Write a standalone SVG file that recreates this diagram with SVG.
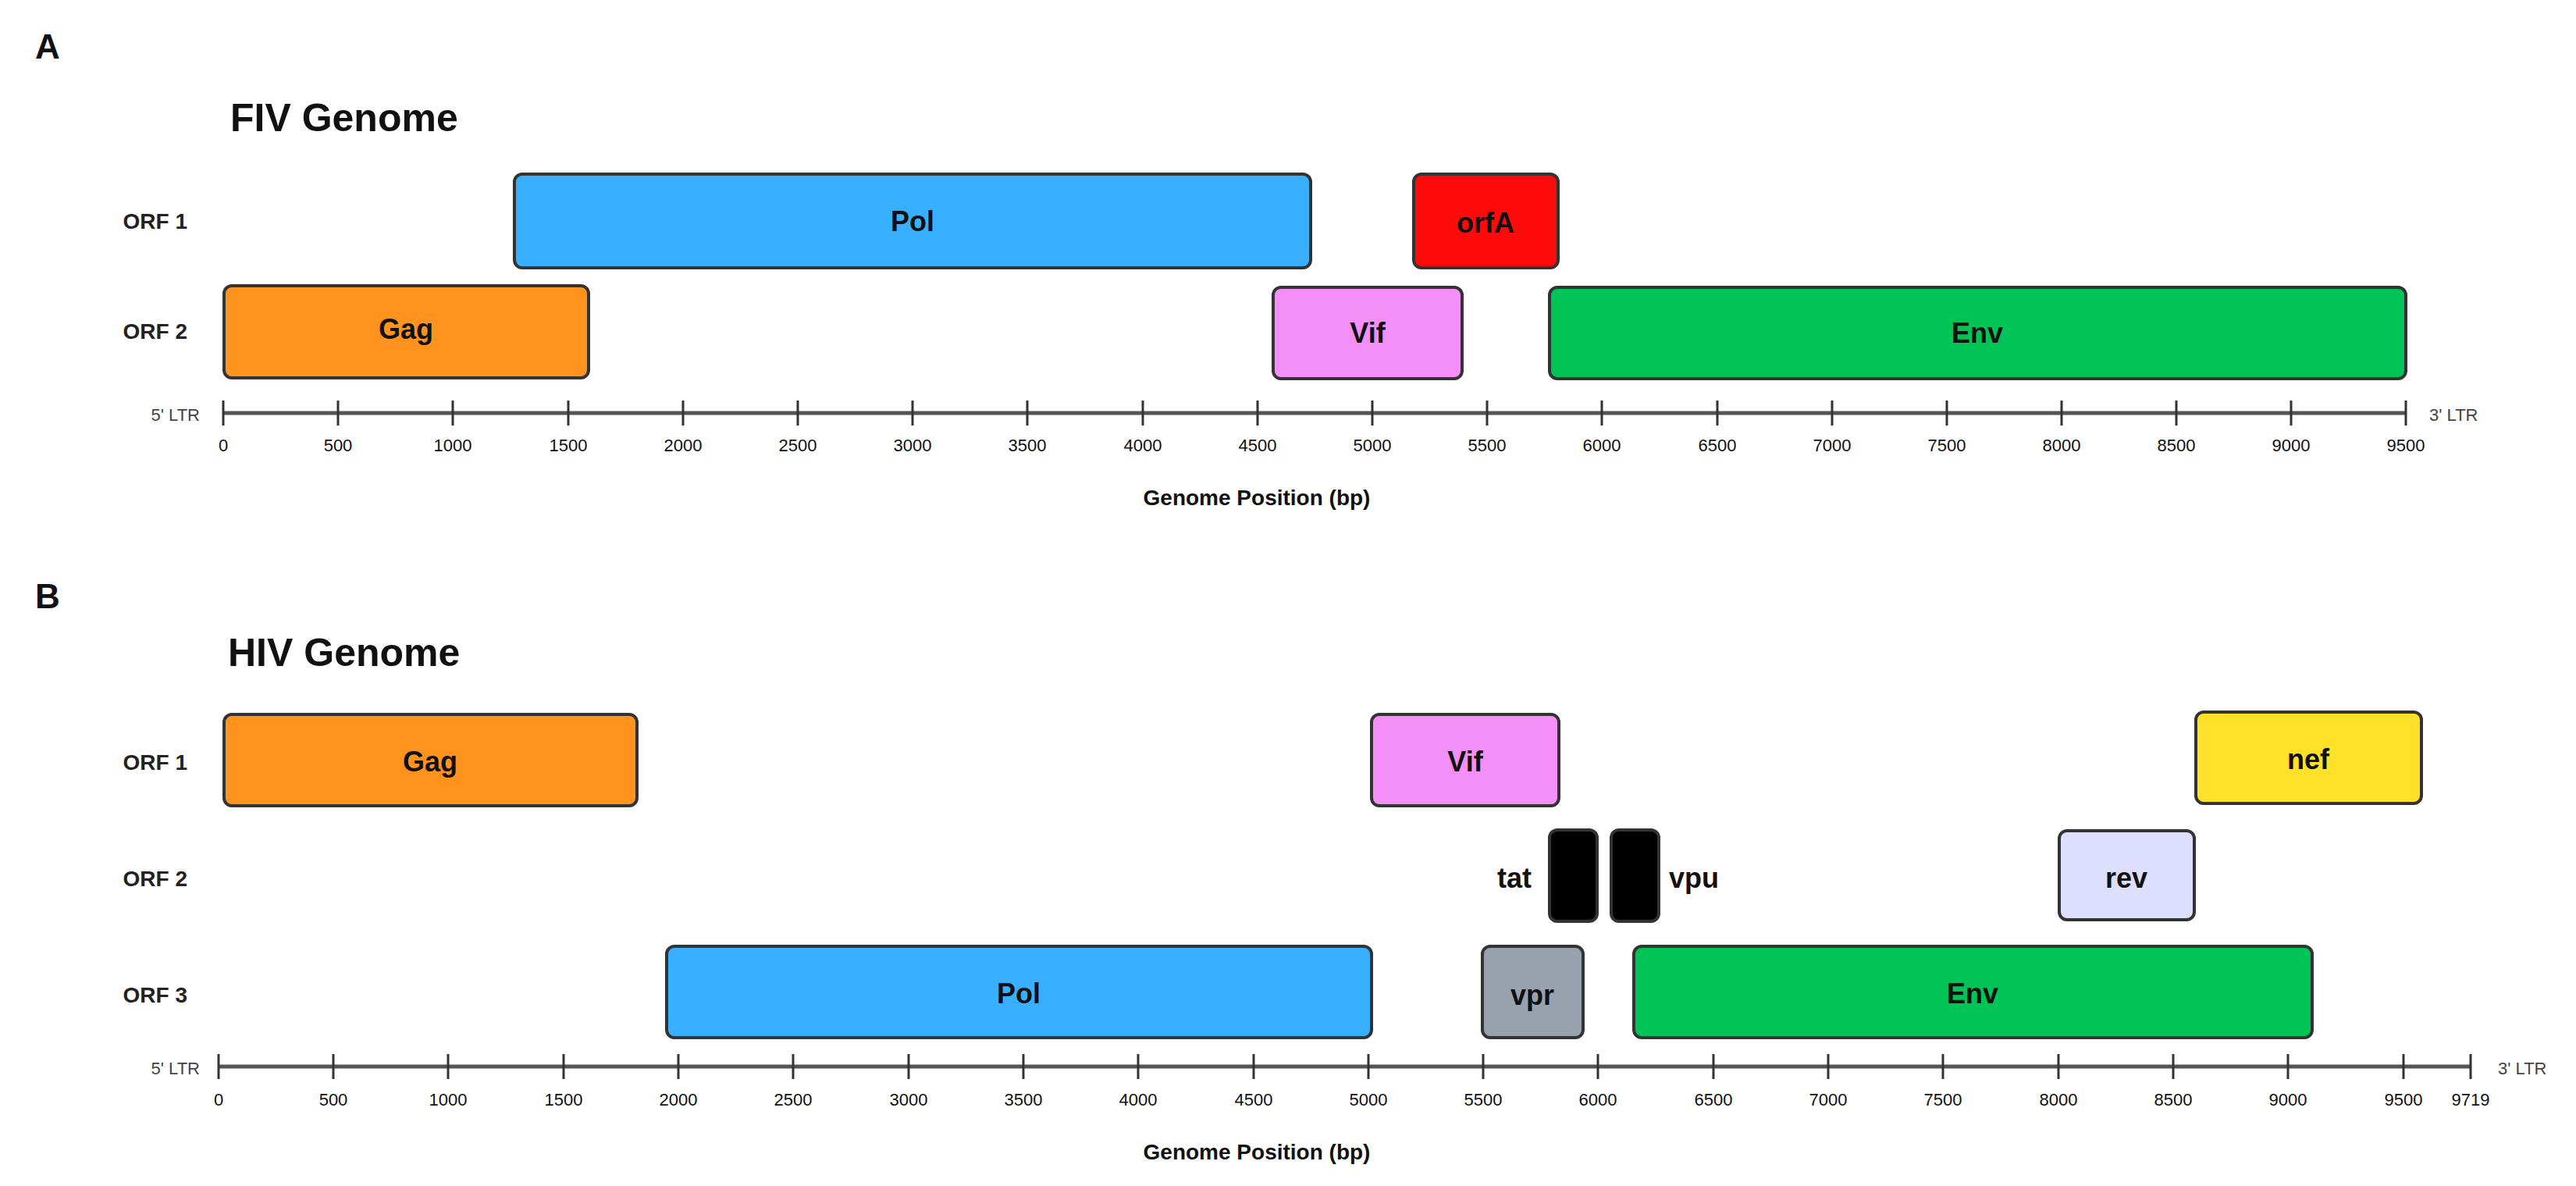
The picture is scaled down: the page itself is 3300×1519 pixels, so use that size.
<svg xmlns="http://www.w3.org/2000/svg" width="3300" height="1519" viewBox="0 0 3300 1519">
<style>
text{font-family:"Liberation Sans",Arial,sans-serif;fill:#111}
.panel{font-size:44px;font-weight:bold}
.title{font-size:50px;font-weight:bold}
.orf{font-size:28px;font-weight:bold;fill:#222;text-anchor:end;dominant-baseline:central}
.gene rect{stroke:#333;stroke-width:4;rx:10;ry:10}
.gl{font-size:36px;font-weight:bold;text-anchor:middle;dominant-baseline:central}
.axis{stroke:#555;stroke-width:5;fill:none}
.tick{stroke:#333;stroke-width:3}
.tl{font-size:22px;fill:#444;text-anchor:middle;dominant-baseline:central}
.ltr{font-size:22px;fill:#444;dominant-baseline:central}
.xl{font-size:28px;font-weight:bold;text-anchor:middle;dominant-baseline:central}
</style>
<rect width="3300" height="1519" fill="#fff"/>
<text class="panel" x="45" y="75">A</text>
<text class="title" x="295" y="168">FIV Genome</text>
<text class="orf" x="240" y="283">ORF 1</text>
<text class="orf" x="240" y="424">ORF 2</text>
<g id="fiv-pol" class="gene"><rect x="659" y="223" width="1020" height="120" fill="#38B0FF"/><text class="gl" x="1169" y="283">Pol</text></g>
<g id="fiv-orfA" class="gene"><rect x="1811" y="223" width="185" height="120" fill="#FF0A0A"/><text class="gl" x="1903" y="285">orfA</text></g>
<g id="fiv-gag" class="gene"><rect x="287" y="366" width="467" height="118" fill="#FF931E"/><text class="gl" x="520" y="421">Gag</text></g>
<g id="fiv-vif" class="gene"><rect x="1631" y="368" width="242" height="117" fill="#F48FF8"/><text class="gl" x="1752" y="426">Vif</text></g>
<g id="fiv-env" class="gene"><rect x="1985" y="368" width="1097" height="117" fill="#00C456"/><text class="gl" x="2533" y="426">Env</text></g>
<g id="fiv-axis">
<line class="axis" x1="286" y1="529" x2="3082" y2="529"/>
<path class="tick" d="M286 513V545M433 513V545M580 513V545M728 513V545M875 513V545M1022 513V545M1169 513V545M1316 513V545M1464 513V545M1611 513V545M1758 513V545M1905 513V545M2052 513V545M2200 513V545M2347 513V545M2494 513V545M2641 513V545M2788 513V545M2935 513V545M3082 513V545"/>
<text class="ltr" x="256" y="531" text-anchor="end">5' LTR</text>
<text class="ltr" x="3112" y="531">3' LTR</text>
<g class="tl"><text x="286" y="570">0</text><text x="433" y="570">500</text><text x="580" y="570">1000</text><text x="728" y="570">1500</text><text x="875" y="570">2000</text><text x="1022" y="570">2500</text><text x="1169" y="570">3000</text><text x="1316" y="570">3500</text><text x="1464" y="570">4000</text><text x="1611" y="570">4500</text><text x="1758" y="570">5000</text><text x="1905" y="570">5500</text><text x="2052" y="570">6000</text><text x="2200" y="570">6500</text><text x="2347" y="570">7000</text><text x="2494" y="570">7500</text><text x="2641" y="570">8000</text><text x="2788" y="570">8500</text><text x="2935" y="570">9000</text><text x="3082" y="570">9500</text></g>
<text class="xl" x="1610" y="637">Genome Position (bp)</text>
</g>
<text class="panel" x="45" y="779">B</text>
<text class="title" x="292" y="853">HIV Genome</text>
<text class="orf" x="240" y="976">ORF 1</text>
<text class="orf" x="240" y="1125">ORF 2</text>
<text class="orf" x="240" y="1274">ORF 3</text>
<g id="hiv-gag" class="gene"><rect x="287" y="915" width="529" height="117" fill="#FF931E"/><text class="gl" x="551" y="975">Gag</text></g>
<g id="hiv-vif" class="gene"><rect x="1757" y="915" width="240" height="117" fill="#F48FF8"/><text class="gl" x="1877" y="975">Vif</text></g>
<g id="hiv-nef" class="gene"><rect x="2813" y="912" width="289" height="117" fill="#FFE12A"/><text class="gl" x="2957" y="972">nef</text></g>
<g id="hiv-tat" class="gene"><rect x="1985" y="1063" width="61" height="117" fill="#000"/><text class="gl" x="1940" y="1124">tat</text></g>
<g id="hiv-vpu" class="gene"><rect x="2064" y="1063" width="61" height="117" fill="#000"/><text class="gl" x="2170" y="1124">vpu</text></g>
<g id="hiv-rev" class="gene"><rect x="2638" y="1064" width="173" height="114" fill="#DEDEFF"/><text class="gl" x="2724" y="1124">rev</text></g>
<g id="hiv-pol" class="gene"><rect x="854" y="1212" width="903" height="117" fill="#38B0FF"/><text class="gl" x="1305" y="1272">Pol</text></g>
<g id="hiv-vpr" class="gene"><rect x="1899" y="1212" width="129" height="117" fill="#98A2AE"/><text class="gl" x="1963" y="1274">vpr</text></g>
<g id="hiv-env" class="gene"><rect x="2093" y="1212" width="869" height="117" fill="#00C456"/><text class="gl" x="2527" y="1272">Env</text></g>
<g id="hiv-axis">
<line class="axis" x1="280" y1="1366" x2="3165" y2="1366"/>
<path class="tick" d="M280 1350V1382M427 1350V1382M574 1350V1382M722 1350V1382M869 1350V1382M1016 1350V1382M1164 1350V1382M1311 1350V1382M1458 1350V1382M1606 1350V1382M1753 1350V1382M1900 1350V1382M2047 1350V1382M2195 1350V1382M2342 1350V1382M2489 1350V1382M2637 1350V1382M2784 1350V1382M2931 1350V1382M3079 1350V1382M3165 1350V1382"/>
<text class="ltr" x="256" y="1368" text-anchor="end">5' LTR</text>
<text class="ltr" x="3200" y="1368">3' LTR</text>
<g class="tl"><text x="280" y="1408">0</text><text x="427" y="1408">500</text><text x="574" y="1408">1000</text><text x="722" y="1408">1500</text><text x="869" y="1408">2000</text><text x="1016" y="1408">2500</text><text x="1164" y="1408">3000</text><text x="1311" y="1408">3500</text><text x="1458" y="1408">4000</text><text x="1606" y="1408">4500</text><text x="1753" y="1408">5000</text><text x="1900" y="1408">5500</text><text x="2047" y="1408">6000</text><text x="2195" y="1408">6500</text><text x="2342" y="1408">7000</text><text x="2489" y="1408">7500</text><text x="2637" y="1408">8000</text><text x="2784" y="1408">8500</text><text x="2931" y="1408">9000</text><text x="3079" y="1408">9500</text><text x="3165" y="1408">9719</text></g>
<text class="xl" x="1610" y="1475">Genome Position (bp)</text>
</g>
<g id="connectors"/>
</svg>
